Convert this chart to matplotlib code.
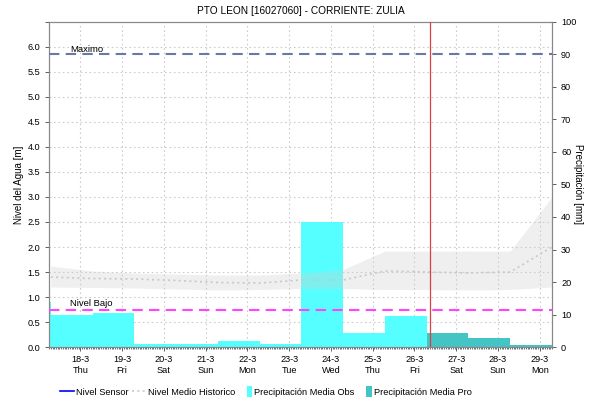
import datetime as dt
import matplotlib
matplotlib.use('Agg')
import matplotlib.pyplot as plt
import matplotlib.dates as mdates
import numpy as np
from matplotlib.legend_handler import HandlerPatch
from matplotlib.lines import Line2D
from matplotlib.patches import Patch, Rectangle
from matplotlib.ticker import FuncFormatter, MultipleLocator

plt.rcParams['font.family'] = ['Liberation Sans', 'DejaVu Sans']

TITLE = 'PTO LEON [16027060] - CORRIENTE: ZULIA'
YLABEL_LEFT = 'Nivel del Agua [m]'
YLABEL_RIGHT = 'Precipitación [mm]'

# daily precipitation, 07:00 -> 07:00
obs_days = ['2021-03-16', '2021-03-17', '2021-03-18', '2021-03-19', '2021-03-20',
            '2021-03-21', '2021-03-22', '2021-03-23', '2021-03-24', '2021-03-25']
obs_mm = [13.8, 9.8, 10.5, 0.8, 0.8, 1.8, 0.8, 38.4, 4.3, 9.6]
pro_days = ['2021-03-26', '2021-03-27', '2021-03-28']
pro_mm = [4.3, 2.8, 0.6]

# historical level (mean and band), sampled at 07:00
hist_days = ['2021-03-17', '2021-03-18', '2021-03-19', '2021-03-20', '2021-03-21',
             '2021-03-22', '2021-03-23', '2021-03-24', '2021-03-25', '2021-03-26',
             '2021-03-27', '2021-03-28', '2021-03-29']
hist_mean = [1.40, 1.37, 1.36, 1.33, 1.29, 1.28, 1.34, 1.34, 1.52, 1.50, 1.48, 1.50, 2.00]
hist_high = [1.62, 1.52, 1.48, 1.46, 1.44, 1.44, 1.48, 1.55, 1.92, 1.92, 1.92, 1.92, 3.00]
hist_low = [1.20, 1.19, 1.18, 1.16, 1.14, 1.15, 1.17, 1.17, 1.15, 1.15, 1.14, 1.15, 1.20]

NIVEL_MAXIMO = 5.85
NIVEL_BAJO = 0.75
AHORA = dt.datetime(2021, 3, 26, 9, 0)


def to_dt(days):
    return [dt.datetime.strptime(d, '%Y-%m-%d') + dt.timedelta(hours=7) for d in days]


def day_label(x, pos):
    d = mdates.num2date(x)
    return f'{d.day}-{d.month}\n{d:%a}'


class NarrowPatch(HandlerPatch):
    # legend swatch drawn as a thin tall block
    def create_artists(self, legend, orig_handle, xdescent, ydescent, width, height,
                       fontsize, trans):
        w = 0.38 * width
        h = 1.35 * height
        p = Rectangle((-xdescent + width - w, -ydescent - (h - height) / 2), w, h,
                      facecolor=orig_handle.get_facecolor(), edgecolor='none',
                      transform=trans)
        return [p]


fig = plt.figure(figsize=(5.95, 4.05), dpi=100)
ax_p = fig.add_axes([0.0824, 0.1432, 0.8453, 0.8025])
ax_l = ax_p.twinx()

# precipitation (drawn below the level axis)
ax_p.bar(to_dt(obs_days), obs_mm, width=1.0, align='edge', color='#55ffff', zorder=2)
ax_p.bar(to_dt(pro_days), pro_mm, width=1.0, align='edge', color='#44c4c4', zorder=2)
ax_p.set_ylim(0, 100)
ax_p.yaxis.set_major_locator(MultipleLocator(10))
ax_p.set_yticks(np.arange(0, 6.51, 0.5) * 100 / 6.5, minor=True)
ax_p.tick_params(axis='y', which='minor', length=0)
ax_p.yaxis.tick_right()
ax_p.yaxis.set_label_position('right')
ax_p.set_ylabel(YLABEL_RIGHT, fontsize=7, rotation=270, labelpad=5)
ax_p.grid(True, axis='x', which='major', color='#cccccc', linestyle=(0, (1.5, 2.5)), linewidth=0.8)
ax_p.grid(True, axis='y', which='minor', color='#cccccc', linestyle=(0, (1.5, 2.5)), linewidth=0.8)
ax_p.set_axisbelow(True)

# water levels
hx = to_dt(hist_days)
ax_l.fill_between(hx, hist_low, hist_high, color='#d0d0d0', alpha=0.33, linewidth=0, zorder=1)
ax_l.plot(hx, hist_mean, color='#c8c8c8', linestyle=(0, (1.2, 2)), linewidth=1.2, zorder=3)
ax_l.axhline(NIVEL_MAXIMO, color='#6878a8', linestyle=(0, (5, 3)), linewidth=1.5, zorder=3)
ax_l.axhline(NIVEL_BAJO, color='#ff44ff', linestyle=(0, (5, 3)), linewidth=1.5, zorder=3)
ax_l.axvline(AHORA, color='#d94040', linewidth=0.9, zorder=4)
ax_l.text(dt.datetime(2021, 3, 17, 18), NIVEL_MAXIMO + 0.01, 'Maximo', fontsize=6.8, va='bottom')
ax_l.text(dt.datetime(2021, 3, 17, 18), NIVEL_BAJO + 0.04, 'Nivel Bajo', fontsize=6.8, va='bottom')
ax_l.set_ylim(0, 6.5)
ax_l.yaxis.set_major_locator(MultipleLocator(0.5))
ax_l.yaxis.set_major_formatter(FuncFormatter(lambda v, p: f'{v:.1f}' if v < 6.3 else ''))
ax_l.yaxis.tick_left()
ax_l.yaxis.set_label_position('left')
ax_l.set_ylabel(YLABEL_LEFT, fontsize=7, labelpad=2)

ax_p.set_xlim(dt.datetime(2021, 3, 17, 6), dt.datetime(2021, 3, 29, 7))
ax_p.xaxis.set_major_locator(mdates.DayLocator())
ax_p.xaxis.set_minor_locator(mdates.HourLocator())
ax_p.xaxis.set_major_formatter(FuncFormatter(day_label))

for a in (ax_p, ax_l):
    a.tick_params(labelsize=6.6, length=3, width=0.6, colors='#444444', labelcolor='black')
    for s in a.spines.values():
        s.set_color('#888888')
        s.set_linewidth(0.8)
ax_p.tick_params(axis='x', which='minor', length=1.5, width=0.4)
ax_p.tick_params(axis='x', which='major', pad=3)

fig.suptitle(TITLE, x=0.505, y=0.985, fontsize=7.3)

handles = [
    Line2D([], [], color='#0000ff', linewidth=1.2),
    Line2D([], [], color='#c8c8c8', linestyle=(0, (1.2, 2)), linewidth=1.2),
    Patch(color='#55ffff'),
    Patch(color='#44c4c4'),
]
labels = ['Nivel Sensor', 'Nivel Medio Historico', 'Precipitación Media Obs', 'Precipitación Media Pro']
fig.legend(handles, labels, loc='center', bbox_to_anchor=(0.447, 0.032), ncol=4, frameon=False,
           fontsize=6.7, handlelength=1.5, handleheight=1.0, handletextpad=0.25,
           columnspacing=0.3, handler_map={Patch: NarrowPatch()})

fig.savefig('out.png', dpi=100)
